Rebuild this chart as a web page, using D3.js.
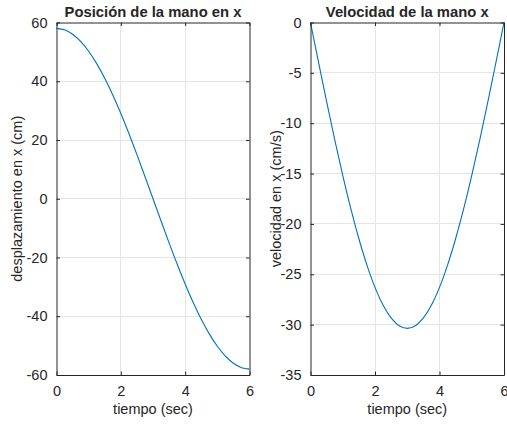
<!DOCTYPE html>
<html>
<head>
<meta charset="utf-8">
<script src="https://cdn.jsdelivr.net/npm/d3@7"></script>
<style>
  html, body { margin: 0; padding: 0; background: #fff; }
  svg { display: block; }
  text { font-family: "Liberation Sans", Arial, Helvetica, sans-serif; fill: #262626; }
</style>
</head>
<body>
<svg id="chart" width="507" height="425"></svg>
<script>
// Sample times (s)
const tiempo = [0, 0.25, 0.5, 0.75, 1, 1.25, 1.5, 1.75, 2, 2.25, 2.5, 2.75, 3,
                3.25, 3.5, 3.75, 4, 4.25, 4.5, 4.75, 5, 5.25, 5.5, 5.75, 6];
// Hand position in x (cm)
const posicion = [58.00, 57.50, 56.02, 53.59, 50.23, 46.01, 41.01, 35.31, 29.00,
                  22.20, 15.01, 7.57, 0.00, -7.57, -15.01, -22.20, -29.00, -35.31,
                  -41.01, -46.01, -50.23, -53.59, -56.02, -57.50, -58.00];
// Hand velocity in x (cm/s)
const velocidad = [0.00, -3.96, -7.86, -11.62, -15.18, -18.49, -21.47, -24.09, -26.30,
                   -28.06, -29.33, -30.11, -30.37, -30.11, -29.33, -28.06, -26.30,
                   -24.09, -21.47, -18.49, -15.18, -11.62, -7.86, -3.96, 0.00];
// Tick values
const xTicks = [0, 2, 4, 6];
const posTicks = [-60, -40, -20, 0, 20, 40, 60];
const velTicks = [-35, -30, -25, -20, -15, -10, -5, 0];

const svg = d3.select("#chart");
const AXIS = "#262626", GRID = "#e5e5e5", LINE = "#0072BD";
const TL = 3.5;
const FS = "14.5px";

function panel(o) {
  const x = d3.scaleLinear().domain([0, 6]).range([o.left, o.right]);
  const y = d3.scaleLinear().domain(o.yDomain).range([o.bottom, o.top]);
  const g = svg.append("g");

  // grid
  g.selectAll(".gx").data(xTicks.slice(1, -1)).join("line")
    .attr("x1", d => x(d)).attr("x2", d => x(d))
    .attr("y1", o.top).attr("y2", o.bottom)
    .attr("stroke", GRID).attr("stroke-width", 1).attr("shape-rendering", "crispEdges");
  g.selectAll(".gy").data(o.yTicks.slice(1, -1)).join("line")
    .attr("x1", o.left).attr("x2", o.right)
    .attr("y1", d => y(d)).attr("y2", d => y(d))
    .attr("stroke", GRID).attr("stroke-width", 1).attr("shape-rendering", "crispEdges");

  // curve
  const pts = tiempo.map((t, i) => [t, o.values[i]]);
  g.append("path").datum(pts)
    .attr("fill", "none").attr("stroke", LINE).attr("stroke-width", 1.1)
    .attr("d", d3.line().x(d => x(d[0])).y(d => y(d[1])).curve(d3.curveCatmullRom.alpha(0.5)));

  // axes: bottom/left with labels, top/right mirrored ticks, all inward
  const fmt = d => String(d);
  const bottom = d3.axisBottom(x).tickValues(xTicks).tickSizeInner(-TL).tickSizeOuter(0).tickPadding(11).tickFormat(fmt);
  const top = d3.axisTop(x).tickValues(xTicks).tickSizeInner(-TL).tickSizeOuter(0).tickFormat("");
  const left = d3.axisLeft(y).tickValues(o.yTicks).tickSizeInner(-TL).tickSizeOuter(0).tickPadding(9).tickFormat(fmt);
  const right = d3.axisRight(y).tickValues(o.yTicks).tickSizeInner(-TL).tickSizeOuter(0).tickFormat("");

  const style = sel => {
    sel.selectAll("path").attr("stroke", AXIS);
    sel.selectAll("line").attr("stroke", AXIS);
    sel.selectAll("text").attr("fill", AXIS).style("font-size", FS)
      .style("font-family", "'Liberation Sans', Arial, sans-serif");
  };
  g.append("g").attr("transform", `translate(0,${o.bottom})`).call(bottom).call(style);
  g.append("g").attr("transform", `translate(0,${o.top})`).call(top).call(style);
  g.append("g").attr("transform", `translate(${o.left},0)`).call(left).call(style);
  g.append("g").attr("transform", `translate(${o.right},0)`).call(right).call(style);

  // title and labels
  g.append("text").attr("x", (o.left + o.right) / 2).attr("y", 17)
    .attr("text-anchor", "middle").style("font-size", "14.8px").style("font-weight", "bold")
    .text(o.title);
  g.append("text").attr("x", (o.left + o.right) / 2).attr("y", 414)
    .attr("text-anchor", "middle").style("font-size", FS).text("tiempo (sec)");
  g.append("text")
    .attr("transform", `translate(${o.ylabelX},${(o.top + o.bottom) / 2}) rotate(-90)`)
    .attr("text-anchor", "middle").style("font-size", FS).text(o.ylabel);
}

panel({
  left: 56.5, right: 249.5, top: 22.5, bottom: 375,
  yDomain: [-60, 60], yTicks: posTicks, values: posicion,
  title: "Posición de la mano en x", ylabel: "desplazamiento en x (cm)", ylabelX: 22
});
panel({
  left: 310.5, right: 504, top: 22.5, bottom: 375,
  yDomain: [-35, 0], yTicks: velTicks, values: velocidad,
  title: "Velocidad de la mano x", ylabel: "velocidad en x (cm/s)", ylabelX: 281
});
</script>
</body>
</html>
